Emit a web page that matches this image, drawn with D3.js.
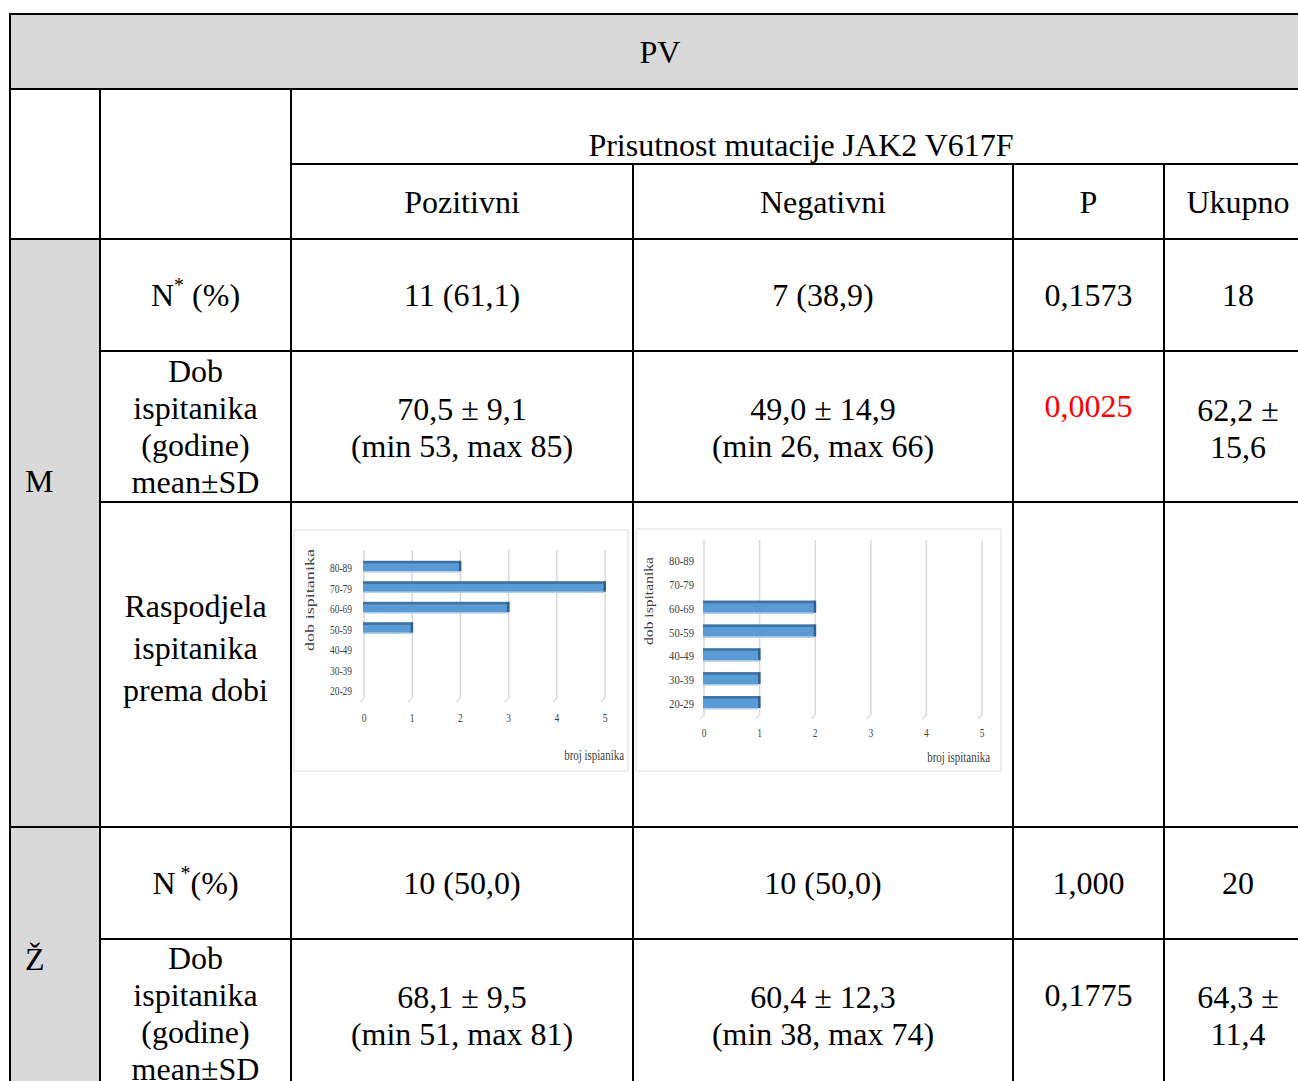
<!DOCTYPE html>
<html>
<head>
<meta charset="utf-8">
<script src="https://cdn.jsdelivr.net/npm/d3@7"></script>
<style>
  html, body { margin: 0; padding: 0; background: #fff; }
  svg { display: block; }
</style>
</head>
<body>
<svg id="chart" width="1298" height="1081"></svg>
<script>
// ---------------- DATA ----------------
const tableTitle = "PV";
const groupHeader = "Prisutnost mutacije JAK2 V617F";
const columnHeaders = ["Pozitivni", "Negativni", "P", "Ukupno"];
const sexLabels = ["M", "Ž"];
const rowLabelDob = ["Dob", "ispitanika", "(godine)", "mean±SD"];
const rowLabelDist = ["Raspodjela", "ispitanika", "prema dobi"];

const menN = ["11 (61,1)", "7 (38,9)", "0,1573", "18"];
const menAge = [["70,5 ± 9,1", "(min 53, max 85)"], ["49,0 ± 14,9", "(min 26, max 66)"], ["0,0025"], ["62,2 ±", "15,6"]];
const womenN = ["10 (50,0)", "10 (50,0)", "1,000", "20"];
const womenAge = [["68,1 ± 9,5", "(min 51, max 81)"], ["60,4 ± 12,3", "(min 38, max 74)"], ["0,1775"], ["64,3 ±", "11,4"]];
const significantP = ["0,0025"];

const ageGroups = ["80-89", "70-79", "60-69", "50-59", "40-49", "30-39", "20-29"];
const menPositive = [2, 5, 3, 1, 0, 0, 0];
const menNegative = [0, 0, 2, 2, 1, 1, 1];
const countTicks = [0, 1, 2, 3, 4, 5];
const yAxisTitle = "dob ispitanika";
const xAxisTitles = ["broj ispianika", "broj ispitanika"];

// ---------------- DRAW ----------------
const svg = d3.select("#chart");
const FONT = "'Liberation Serif', 'Times New Roman', serif";
const FS = 32;
const grey = "#d9d9d9";

// column and row boundaries (layout)
const X = { left: 10, c1: 100, c2: 291, c3: 633, c4: 1013, c5: 1164, right: 1298 };
const Y = { top: 14, r1: 89, r2: 164, r3: 239, r4: 351, r5: 502, r6: 827, r7: 939, bottom: 1081 };
const cx = [(X.c1 + X.c2) / 2, (X.c2 + X.c3) / 2, (X.c3 + X.c4) / 2, (X.c4 + X.c5) / 2, 1238];

// background fills
svg.append("rect").attr("x", X.left).attr("y", Y.top).attr("width", X.right - X.left).attr("height", Y.r1 - Y.top).attr("fill", grey);
svg.append("rect").attr("x", X.left).attr("y", Y.r3).attr("width", X.c1 - X.left).attr("height", Y.bottom - Y.r3).attr("fill", grey);

function txt(x, y, s, opts = {}) {
  return svg.append("text")
    .attr("x", x).attr("y", y)
    .attr("text-anchor", opts.anchor || "middle")
    .attr("font-family", FONT)
    .attr("font-size", opts.size || FS)
    .attr("fill", opts.fill || "#000")
    .text(s);
}

// header texts
txt(660, 63, tableTitle);
txt(801, 156, groupHeader);
columnHeaders.forEach((h, i) => txt(cx[i + 1], 213, h));

// sex labels
txt(25, 492, sexLabels[0], { anchor: "start" });
txt(25, 970, sexLabels[1], { anchor: "start" });

// N* (%) labels
function nLabel(y, star) {
  const t = svg.append("text").attr("x", cx[0]).attr("y", y).attr("text-anchor", "middle")
    .attr("font-family", FONT).attr("font-size", FS).attr("fill", "#000");
  t.append("tspan").text("N");
  t.append("tspan").attr("dy", -14).attr("font-size", 20).text(star);
  t.append("tspan").attr("dy", 14).text(star === "*" ? " (%)" : "(%)");
}
nLabel(306, "*");
nLabel(894, " *");

// multi-line row labels
function lines(x, y0, step, arr, opts) {
  arr.forEach((s, i) => txt(x, y0 + i * step, s, opts));
}
lines(cx[0], 382, 37, rowLabelDob);
lines(cx[0], 617, 42, rowLabelDist);
lines(cx[0], 969, 37, rowLabelDob);

// values
menN.forEach((s, i) => txt(cx[i + 1], 306, s));
womenN.forEach((s, i) => txt(cx[i + 1], 894, s));
const ageY = [420, 420, 417, 421];
menAge.forEach((arr, i) => lines(cx[i + 1], ageY[i], 37, arr, { fill: significantP.includes(arr[0]) ? "#ff0000" : "#000" }));
const ageY2 = [1008, 1008, 1006, 1008];
womenAge.forEach((arr, i) => lines(cx[i + 1], ageY2[i], 37, arr, { fill: significantP.includes(arr[0]) ? "#ff0000" : "#000" }));

// grid lines of the table
const hLines = [[Y.top, X.left], [Y.r1, X.left], [Y.r2, X.c2], [Y.r3, X.left], [Y.r4, X.c1], [Y.r5, X.c1], [Y.r6, X.left], [Y.r7, X.c1]];
hLines.forEach(([y, x0]) => svg.append("line").attr("x1", x0 - 1).attr("x2", X.right).attr("y1", y).attr("y2", y).attr("stroke", "#000").attr("stroke-width", 2));
const vLines = [[X.left, Y.top], [X.c1, Y.r1], [X.c2, Y.r1], [X.c3, Y.r2], [X.c4, Y.r2], [X.c5, Y.r2]];
vLines.forEach(([x, y0]) => svg.append("line").attr("x1", x).attr("x2", x).attr("y1", y0 - 1).attr("y2", Y.bottom).attr("stroke", "#000").attr("stroke-width", 2));

// ---------------- mini bar charts ----------------
const charts = [
  { values: menPositive, frame: [294, 530, 628, 771], xr: [364, 605], yr: [568, 691], grid: [550, 698], tickY: 722,
    catX: 352, catSx: 0.86, yTitle: [310, 600], yTitleS: 1.45, xTitle: xAxisTitles[0], xTitleX: 624, xTitleY: 760 },
  { values: menNegative, frame: [636, 529, 1001, 771], xr: [704, 982], yr: [561, 704], grid: [540, 715], tickY: 737,
    catX: 694, catSx: 0.97, yTitle: [649, 601], yTitleS: 1.25, xTitle: xAxisTitles[1], xTitleX: 990, xTitleY: 762 }
];

charts.forEach(c => {
  const g = svg.append("g");
  const [fx0, fy0, fx1, fy1] = c.frame;
  g.append("rect").attr("x", fx0).attr("y", fy0).attr("width", fx1 - fx0).attr("height", fy1 - fy0)
    .attr("fill", "#fff").attr("stroke", "#e3e3e3").attr("stroke-width", 1.2);

  const x = d3.scaleLinear().domain([0, 5]).range(c.xr);
  const y = d3.scalePoint().domain(ageGroups).range(c.yr);
  const bh = y.step() * 0.5;

  // vertical gridlines with small 3D floor slant
  countTicks.forEach(t => {
    g.append("line").attr("x1", x(t)).attr("x2", x(t)).attr("y1", c.grid[0]).attr("y2", c.grid[1])
      .attr("stroke", "#d9d9d9").attr("stroke-width", 1.5);
    g.append("line").attr("x1", x(t)).attr("x2", x(t) - 4).attr("y1", c.grid[1]).attr("y2", c.grid[1] + 4)
      .attr("stroke", "#d9d9d9").attr("stroke-width", 1.2);
  });

  // bars
  const data = ageGroups.map((a, i) => ({ a, v: c.values[i] })).filter(d => d.v > 0);
  const bars = g.selectAll("g.bar").data(data).enter().append("g").attr("class", "bar");
  bars.append("rect").attr("x", x(0) - 1).attr("y", d => y(d.a) - bh / 2 - 2 + bh)
    .attr("width", d => x(d.v) - x(0)).attr("height", 1.5).attr("fill", "#b4cde9");
  bars.append("rect").attr("x", x(0) - 1).attr("y", d => y(d.a) - bh / 2 - 2)
    .attr("width", d => x(d.v) - x(0) + 1).attr("height", bh).attr("fill", "#5b9bd5");
  bars.append("rect").attr("x", x(0) - 1).attr("y", d => y(d.a) - bh / 2 - 2)
    .attr("width", d => x(d.v) - x(0) + 1).attr("height", 2.5).attr("fill", "#41719c");
  bars.append("rect").attr("x", d => x(d.v) - 1.5).attr("y", d => y(d.a) - bh / 2 - 2)
    .attr("width", 2.5).attr("height", bh).attr("fill", "#2e5f8f");

  // category labels
  ageGroups.forEach(a => {
    g.append("g").attr("transform", `translate(${c.catX},${y(a) + 4}) scale(${c.catSx},1.2)`)
      .append("text").attr("text-anchor", "end").attr("font-family", FONT).attr("font-size", 11)
      .attr("fill", "#404040").text(a);
  });

  // tick labels
  countTicks.forEach(t => {
    g.append("g").attr("transform", `translate(${x(t)},${c.tickY}) scale(0.9,1.2)`)
      .append("text").attr("text-anchor", "middle").attr("font-family", FONT).attr("font-size", 10.5)
      .attr("fill", "#404040").text(t);
  });

  // y axis title (rotated)
  g.append("g").attr("transform", `translate(${c.yTitle[0] + 4},${c.yTitle[1]}) rotate(-90) scale(${c.yTitleS},1)`)
    .append("text").attr("text-anchor", "middle").attr("font-family", FONT).attr("font-size", 12.5)
    .attr("fill", "#404040").text(yAxisTitle);

  // x axis title
  g.append("g").attr("transform", `translate(${c.xTitleX},${c.xTitleY}) scale(0.95,1.2)`)
    .append("text").attr("text-anchor", "end").attr("font-family", FONT).attr("font-size", 11.5)
    .attr("fill", "#404040").text(c.xTitle);
});
</script>
</body>
</html>
